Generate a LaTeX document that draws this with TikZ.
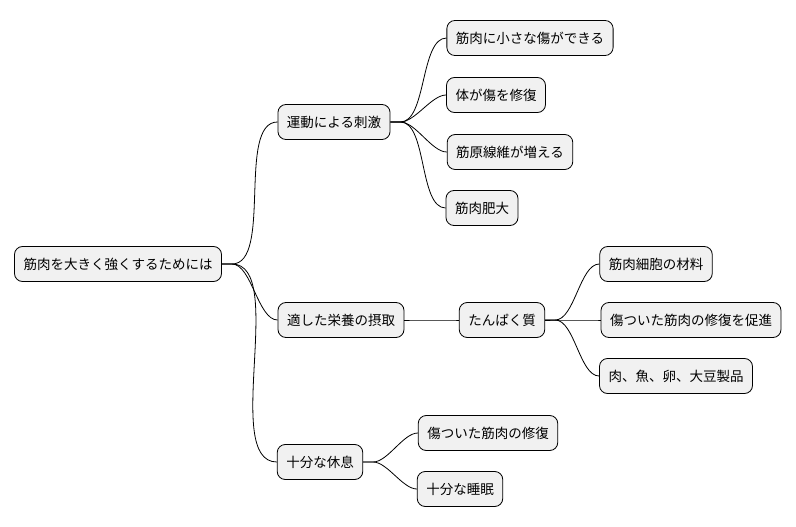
\documentclass[tikz,border=0pt]{standalone}
\usepackage{fontspec}
\setmainfont{Noto Sans CJK JP}
\begin{document}
\begin{tikzpicture}[x=1pt,y=-1pt,
  box/.style={draw=black,line width=0.8pt,fill={rgb,255:red,241;green,241;blue,241},rounded corners=8pt,inner xsep=9pt,minimum height=35pt,font=\fontsize{13.5}{16}\selectfont},
  link/.style={line width=0.8pt}]
\useasboundingbox (0,0) rectangle (796,527);
\node[box] (r) at (118,264) {筋肉を大きく強くするためには};
\node[box] (a) at (334,122) {運動による刺激};
\node[box] (a1) at (530,38) {筋肉に小さな傷ができる};
\node[box] (a2) at (496,95) {体が傷を修復};
\node[box] (a3) at (510,152) {筋原線維が増える};
\node[box] (a4) at (482,208) {筋肉肥大};
\node[box] (b) at (341,320) {適した栄養の摂取};
\node[box] (b1) at (502,320) {たんぱく質};
\node[box] (b11) at (656,264) {筋肉細胞の材料};
\node[box] (b12) at (691,320) {傷ついた筋肉の修復を促進};
\node[box] (b13) at (676,376) {肉、魚、卵、大豆製品};
\node[box] (c) at (320,462) {十分な休息};
\node[box] (c1) at (488,433) {傷ついた筋肉の修復};
\node[box] (c2) at (460,489) {十分な睡眠};
\foreach \p/\c in {r/a,r/b,r/c,a/a1,a/a2,a/a3,a/a4,b/b1,b1/b11,b1/b12,b1/b13,c/c1,c/c2}{
  \draw[link] (\p.east) -- ++(10,0) to[out=0,in=180,looseness=0.7] (\c.west);
}
\end{tikzpicture}
\end{document}
